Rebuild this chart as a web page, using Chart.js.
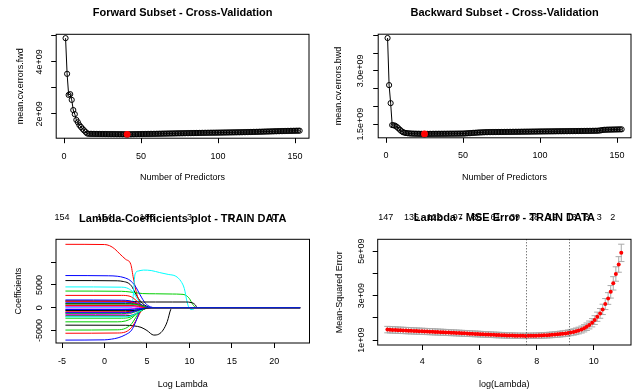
<!DOCTYPE html>
<html>
<head>
<meta charset="utf-8">
<script src="https://cdn.jsdelivr.net/npm/chart.js@4.4.1/dist/chart.umd.min.js"></script>
<style>
  html, body { margin: 0; padding: 0; background: #fff; }
  #wrap { position: relative; width: 632px; height: 392px; }
  canvas { position: absolute; }
</style>
</head>
<body>
<div id="wrap">
  <canvas id="fwd" width="316" height="196" style="left:0;top:0"></canvas>
  <canvas id="bwd" width="316" height="196" style="left:316px;top:0"></canvas>
  <canvas id="coef" width="316" height="196" style="left:0;top:196px"></canvas>
  <canvas id="mse" width="316" height="196" style="left:316px;top:196px"></canvas>
</div>
<script>
// mean CV error (x 1e9) for 1..153 predictors
const fwdErrors = [
  4.91, 3.54, 2.73, 2.76, 2.54, 2.15, 1.99, 1.77, 1.68, 1.57,
  1.50, 1.43, 1.37, 1.31, 1.25, 1.238, 1.236, 1.235, 1.234, 1.233,
  1.232, 1.232, 1.231, 1.230, 1.230, 1.229, 1.229, 1.228, 1.227, 1.227,
  1.226, 1.226, 1.225, 1.225, 1.224, 1.223, 1.223, 1.222, 1.221, 1.220,
  1.217, 1.220, 1.221, 1.222, 1.223, 1.224, 1.225, 1.226, 1.227, 1.228,
  1.229, 1.230, 1.231, 1.232, 1.233, 1.234, 1.235, 1.236, 1.237, 1.238,
  1.240, 1.241, 1.242, 1.244, 1.245, 1.246, 1.247, 1.249, 1.250, 1.251,
  1.252, 1.253, 1.255, 1.256, 1.257, 1.258, 1.259, 1.260, 1.262, 1.263,
  1.264, 1.265, 1.266, 1.267, 1.268, 1.270, 1.271, 1.272, 1.273, 1.274,
  1.275, 1.276, 1.277, 1.278, 1.279, 1.280, 1.280, 1.281, 1.282, 1.283,
  1.284, 1.285, 1.286, 1.287, 1.288, 1.289, 1.290, 1.291, 1.292, 1.293,
  1.294, 1.295, 1.296, 1.297, 1.298, 1.300, 1.301, 1.302, 1.304, 1.305,
  1.307, 1.308, 1.310, 1.312, 1.313, 1.315, 1.317, 1.318, 1.320, 1.322,
  1.324, 1.326, 1.327, 1.329, 1.331, 1.333, 1.335, 1.336, 1.338, 1.340,
  1.342, 1.343, 1.345, 1.346, 1.348, 1.349, 1.351, 1.352, 1.353, 1.355,
  1.356, 1.357, 1.358
];
const bwdErrors = [
  3.93, 2.60, 2.09, 1.47, 1.465, 1.45, 1.42, 1.38, 1.34, 1.30,
  1.27, 1.255, 1.245, 1.240, 1.235, 1.232, 1.230, 1.228, 1.227, 1.226,
  1.225, 1.224, 1.223, 1.222, 1.219, 1.221, 1.222, 1.222, 1.223, 1.223,
  1.224, 1.224, 1.224, 1.225, 1.225, 1.225, 1.226, 1.226, 1.226, 1.227,
  1.227, 1.228, 1.228, 1.228, 1.229, 1.229, 1.230, 1.230, 1.231, 1.231,
  1.233, 1.236, 1.239, 1.242, 1.245, 1.248, 1.251, 1.254, 1.257, 1.260,
  1.262, 1.264, 1.266, 1.268, 1.270, 1.271, 1.272, 1.272, 1.273, 1.273,
  1.274, 1.274, 1.275, 1.275, 1.276, 1.276, 1.277, 1.277, 1.278, 1.278,
  1.279, 1.279, 1.280, 1.280, 1.281, 1.281, 1.282, 1.283, 1.283, 1.284,
  1.284, 1.285, 1.285, 1.286, 1.287, 1.287, 1.288, 1.288, 1.289, 1.290,
  1.290, 1.291, 1.291, 1.292, 1.292, 1.293, 1.293, 1.294, 1.294, 1.295,
  1.295, 1.296, 1.296, 1.297, 1.297, 1.298, 1.298, 1.299, 1.299, 1.300,
  1.300, 1.301, 1.301, 1.302, 1.302, 1.303, 1.303, 1.304, 1.305, 1.305,
  1.306, 1.306, 1.307, 1.308, 1.309, 1.310, 1.311, 1.313, 1.318, 1.328,
  1.334, 1.337, 1.339, 1.341, 1.342, 1.343, 1.344, 1.345, 1.346, 1.347,
  1.348, 1.349, 1.350
];
const predictorTicks = [0, 50, 100, 150];
const fwdYTicks = [2, 3, 4, 5];
const bwdYTicks = [1.5, 2, 2.5, 3, 3.5, 4];

// lasso coefficient paths: [log lambda, coefficient] pairs
const coefPaths = [
  [[-4.6,5950],[1.5,5900],[2.2,5750],[2.8,5400],[3.2,4700],[3.6,3300],[4,2000],[4.5,900],[5,300],[5.5,0],[23.03,0]],
  [[-4.6,13900],[0,13850],[0.6,13600],[1.2,12900],[1.8,11800],[2.5,10600],[3.1,9500],[3.4,6500],[3.8,3000],[4.2,1000],[4.7,0],[23.03,0]],
  [[-4.6,3650],[2,3600],[3,3450],[3.8,3250],[4.5,3100],[6,3050],[8,3000],[9,2950],[9.5,2800],[10,2000],[10.4,700],[10.8,0],[23.03,0]],
  [[-4.6,7050],[0.5,7000],[1.5,6900],[2.3,6600],[3,6000],[3.6,4800],[4.2,2800],[4.8,1000],[5.4,200],[6,0],[23.03,0]],
  [[-4.6,0],[3.2,0],[3.4,3000],[3.6,7400],[4,8050],[4.6,8250],[5.5,8150],[6.5,7700],[7.5,7300],[8.4,6900],[9,5800],[9.4,4200],[9.7,1500],[9.9,200],[10.2,-400],[10.5,-300],[10.8,0],[23.03,0]],
  [[-4.6,-300],[2,-300],[3.5,-200],[4.5,0],[23.03,0]],
  [[-4.6,-3830],[2.5,-3850],[3.5,-4000],[4.3,-4300],[5,-5000],[5.8,-6000],[6.4,-5800],[6.9,-4900],[7.4,-3000],[7.8,-400],[8.1,0],[23.03,0]],
  [[-4.6,-5600],[1.5,-5550],[2.5,-5300],[3.2,-4300],[3.8,-2500],[4.3,-800],[4.8,0],[23.03,0]],
  [[-4.6,-4900],[1.5,-4850],[2.5,-4500],[3.2,-3500],[3.8,-1800],[4.3,-500],[4.8,0],[23.03,0]],
  [[-4.6,-7100],[0,-7050],[0.8,-6900],[1.6,-6600],[2.5,-5900],[3.2,-4900],[3.7,-3000],[4.1,-1000],[4.5,0],[23.03,0]],
  [[-4.6,4560],[2,4500],[2.8,4200],[3.4,3300],[3.9,1800],[4.4,600],[5,0],[23.03,0]],
  [[-4.6,-1000],[2.5,-1000],[3.5,-700],[4.5,-200],[5.2,0],[23.03,0]],
  [[-4.6,1500],[2,1450],[3.5,1350],[4.5,1250],[6,1250],[8,1250],[9.5,1250],[10.3,1100],[10.7,600],[10.9,0],[23.03,0]],
  [[-4.6,2700],[2,2700],[3,2500],[3.6,1800],[4.2,800],[4.8,200],[5.3,0],[23.03,0]],
  [[-4.6,-3100],[1.5,-3100],[2.5,-2900],[3.2,-2300],[3.8,-1300],[4.4,-400],[5,0],[23.03,0]],
  [[-4.6,1700],[2,1650],[3,1500],[4,900],[5,200],[5.5,0],[23.03,0]],
  [[-4.6,300],[3,300],[4.5,100],[5,0],[23.03,0]],
  [[-4.6,-1500],[2.5,-1450],[3.5,-1000],[4.5,-300],[5.2,0],[23.03,0]],
  [[-4.6,-1800],[2.5,-1800],[3.3,-1600],[4,-1000],[4.8,-200],[5.3,0],[23.03,0]],
  [[-4.6,-900],[2.5,-900],[3.5,-600],[4.5,-100],[5,0],[23.03,0]],
  [[-4.6,-2300],[2,-2300],[3,-2100],[3.8,-1300],[4.6,-400],[5.4,0],[23.03,0]],
  [[-4.6,1200],[2.5,1200],[3.5,1000],[4.5,400],[5.2,0],[23.03,0]],
  [[-4.6,-600],[3,-600],[4,-300],[5,0],[23.03,0]],
  [[-4.6,600],[2.5,600],[3.5,500],[4.5,150],[5,0],[23.03,0]],
  [[-4.6,900],[2.5,900],[3.5,800],[4.2,500],[4.8,100],[5.2,0],[23.03,0]],
  [[-4.6,1400],[2.5,1400],[3.5,1100],[4.3,500],[5,0],[23.03,0]],
  [[-4.6,-1300],[2,-1300],[3.2,-1100],[4.2,-500],[5,0],[23.03,0]],
  [[-4.6,-400],[3,-400],[4,-200],[4.8,0],[23.03,0]],
  [[-4.6,-2000],[2.5,-2000],[3.5,-1500],[4.3,-600],[5,0],[23.03,0]],
  [[-4.6,200],[3,200],[4,100],[4.6,0],[23.03,0]],
  [[-4.6,-600],[2.5,-650],[3.5,-600],[4.5,-300],[5.5,0],[23.03,0]],
  [[-4.6,500],[3,500],[4,300],[4.8,0],[23.03,0]],
  [[-4.6,800],[3,800],[4,600],[4.8,200],[5.4,0],[23.03,0]],
  [[-4.6,-1100],[2.5,-1100],[3.5,-800],[4.5,-200],[5,0],[23.03,0]]
];
const coefXTicks = [-5, 0, 5, 10, 15, 20];
const coefYTicks = [-5000, 0, 5000, 10000];
const coefTopTicks = [-5, 0, 5, 10, 15, 20];
const coefTopLabels = ["154", "154", "108", "3", "0", "0"];
const palette = ["#000000", "#ff0000", "#00cd00", "#0000ff", "#00ffff", "#ff00ff"];

// cross-validated MSE (x 1e9) against log(lambda)
const mseLogLambda = [
  2.78, 2.87, 2.96, 3.06, 3.15, 3.24, 3.33, 3.43, 3.52, 3.61,
  3.71, 3.80, 3.89, 3.99, 4.08, 4.17, 4.26, 4.36, 4.45, 4.54,
  4.64, 4.73, 4.82, 4.92, 5.01, 5.10, 5.19, 5.29, 5.38, 5.47,
  5.57, 5.66, 5.75, 5.85, 5.94, 6.03, 6.12, 6.22, 6.31, 6.40,
  6.50, 6.59, 6.68, 6.78, 6.87, 6.96, 7.05, 7.15, 7.24, 7.33,
  7.43, 7.52, 7.61, 7.71, 7.80, 7.89, 7.98, 8.08, 8.17, 8.26,
  8.36, 8.45, 8.54, 8.64, 8.73, 8.82, 8.91, 9.01, 9.10, 9.19,
  9.29, 9.38, 9.47, 9.57, 9.66, 9.75, 9.84, 9.94, 10.03, 10.12,
  10.22, 10.31, 10.40, 10.50, 10.59, 10.68, 10.77, 10.87, 10.96
];
const mseMean = [
  1.472, 1.466, 1.459, 1.453, 1.447, 1.441, 1.435, 1.429, 1.423, 1.418,
  1.412, 1.407, 1.401, 1.396, 1.390, 1.385, 1.379, 1.374, 1.368, 1.362,
  1.357, 1.351, 1.345, 1.339, 1.333, 1.327, 1.321, 1.315, 1.309, 1.303,
  1.297, 1.291, 1.285, 1.279, 1.273, 1.267, 1.261, 1.255, 1.249, 1.243,
  1.237, 1.231, 1.226, 1.221, 1.216, 1.211, 1.207, 1.203, 1.199, 1.196,
  1.193, 1.191, 1.190, 1.191, 1.193, 1.195, 1.198, 1.202, 1.207, 1.213,
  1.220, 1.228, 1.237, 1.247, 1.258, 1.270, 1.284, 1.300, 1.318, 1.340,
  1.365, 1.395, 1.430, 1.475, 1.530, 1.600, 1.680, 1.780, 1.900, 2.050,
  2.200, 2.380, 2.620, 2.870, 3.170, 3.550, 3.970, 4.400, 4.920
];
const mseSd = [
  0.145, 0.145, 0.144, 0.144, 0.143, 0.143, 0.142, 0.142, 0.141, 0.141,
  0.140, 0.140, 0.139, 0.139, 0.138, 0.138, 0.137, 0.137, 0.136, 0.136,
  0.135, 0.135, 0.134, 0.134, 0.133, 0.133, 0.132, 0.132, 0.131, 0.131,
  0.130, 0.130, 0.129, 0.129, 0.128, 0.128, 0.127, 0.127, 0.126, 0.126,
  0.125, 0.125, 0.124, 0.124, 0.123, 0.123, 0.122, 0.122, 0.122, 0.121,
  0.121, 0.121, 0.121, 0.121, 0.121, 0.122, 0.122, 0.123, 0.123, 0.124,
  0.125, 0.126, 0.127, 0.128, 0.129, 0.131, 0.133, 0.135, 0.137, 0.140,
  0.143, 0.147, 0.151, 0.156, 0.162, 0.169, 0.177, 0.186, 0.196, 0.207,
  0.219, 0.232, 0.247, 0.263, 0.281, 0.301, 0.324, 0.350, 0.390
];
const mseXTicks = [4, 6, 8, 10];
const mseYTicks = [1, 2, 3, 4, 5];
const mseTopTicks = [2.72, 3.62, 4.42, 5.24, 5.9, 6.56, 7.24, 7.91, 8.56, 9.23, 9.75, 10.19, 10.66];
const mseTopLabels = ["147", "135", "122", "97", "86", "61", "39", "28", "19", "13", "8", "3", "2"];
const lambdaMinLog = 7.61;
const lambda1seLog = 9.12;

const FONT = '"Liberation Sans", Arial, Helvetica, sans-serif';
Chart.defaults.font.family = FONT;
Chart.defaults.font.size = 9;
Chart.defaults.color = "#000";

const W = 316, H = 196, TL = 5;
const meas = document.createElement("canvas").getContext("2d");
meas.font = "9px " + FONT;
const halfWidest = (labels) => Math.max(...labels.map((t) => meas.measureText(t).width)) / 2;

function fixSize(prop, val) {
  return (s) => {
    s[prop] = val;
    s.paddingLeft = s.paddingRight = s.paddingTop = s.paddingBottom = 0;
  };
}
const useTicks = (vals) => (s) => { s.ticks = vals.map((v) => ({ value: v })); };

const frame = {
  id: "frame",
  afterDraw(chart) {
    const { ctx, chartArea: a } = chart;
    ctx.save();
    ctx.strokeStyle = "#000";
    ctx.lineWidth = 1;
    ctx.strokeRect(a.left, a.top, a.right - a.left, a.bottom - a.top);
    ctx.restore();
  },
};

function panel(id, p) {
  const yPad = p.box.l - TL - halfWidest(p.y.shown) - p.y.labelCx;
  const top = p.top;
  return new Chart(document.getElementById(id), {
    type: "line",
    data: { datasets: p.datasets },
    options: {
      responsive: false,
      animation: false,
      events: [],
      layout: { autoPadding: false, padding: { left: 0, top: 0, bottom: 0, right: W - p.box.r } },
      plugins: { legend: { display: false }, tooltip: { enabled: false }, title: { display: false } },
      scales: {
        x: {
          type: "linear", position: "bottom", min: p.x.min, max: p.x.max,
          afterFit: fixSize("height", H - p.box.b),
          afterBuildTicks: useTicks(p.x.ticks),
          border: { display: false },
          grid: { drawOnChartArea: false, tickLength: TL, color: "#000" },
          ticks: { maxRotation: 0, autoSkip: false, padding: p.x.labelPad, callback: (v) => String(v) },
          title: { display: true, text: p.x.title, padding: { top: 0, bottom: p.x.titlePad } },
        },
        y: {
          type: "linear", position: "left", min: p.y.min, max: p.y.max,
          afterFit: fixSize("width", p.box.l),
          afterBuildTicks: useTicks(p.y.ticks),
          border: { display: false },
          grid: { drawOnChartArea: false, tickLength: TL, color: "#000" },
          ticks: { autoSkip: false, minRotation: 90, maxRotation: 90, crossAlign: "center", padding: yPad, callback: p.y.fmt },
          title: { display: true, text: p.y.title, padding: { top: p.y.titlePad, bottom: 0 } },
        },
        x2: {
          type: "linear", position: "top", min: p.x.min, max: p.x.max,
          afterFit: fixSize("height", p.box.t),
          afterBuildTicks: top.ticks ? useTicks(top.ticks) : undefined,
          border: { display: false },
          grid: { display: false },
          ticks: { display: !!top.ticks, autoSkip: false, maxRotation: 0, padding: top.labelPad || 0, callback: (v, i) => (top.labels ? top.labels[i] : "") },
          title: { display: true, text: top.title, font: { size: 11, weight: "bold" }, padding: { top: top.titlePad, bottom: 0 } },
        },
      },
    },
    plugins: [frame].concat(p.plugins || []),
  });
}

function subsetSets(errors) {
  const best = errors.indexOf(Math.min(...errors)) + 1;
  return [
    { data: [{ x: best, y: errors[best - 1] }], showLine: false, pointRadius: 3.4, pointBackgroundColor: "#ff0000", pointBorderWidth: 0, order: 0 },
    {
      data: errors.map((v, i) => ({ x: i + 1, y: v })),
      borderColor: "#000", borderWidth: 1, tension: 0,
      pointRadius: 2.6, pointBorderWidth: 1, pointBorderColor: "#000", pointBackgroundColor: "rgba(0,0,0,0)", order: 1,
    },
  ];
}

panel("fwd", {
  box: { l: 56.2, t: 34.3, r: 309, b: 138.2 },
  x: { min: -5.08, max: 159.08, ticks: predictorTicks, title: "Number of Predictors", labelPad: 7.6, titlePad: 12.9 },
  y: { min: 1.069, max: 5.058, ticks: fwdYTicks, title: "mean.cv.errors.fwd", titlePad: 15.3, labelCx: 40,
       shown: ["2e+09", "4e+09"], fmt: (v) => (v === 2 || v === 4 ? v + "e+09" : "") },
  top: { title: "Forward Subset - Cross-Validation", titlePad: 6.7 },
  datasets: subsetSets(fwdErrors),
});

panel("bwd", {
  box: { l: 62.2, t: 34.2, r: 315, b: 137.8 },
  x: { min: -5.08, max: 159.08, ticks: predictorTicks, title: "Number of Predictors", labelPad: 7.6, titlePad: 12.9 },
  y: { min: 1.111, max: 4.038, ticks: bwdYTicks, title: "mean.cv.errors.bwd", titlePad: 17.3, labelCx: 45,
       shown: ["1.5e+09", "3.0e+09"], fmt: (v) => (v === 1.5 || v === 3 ? v.toFixed(1) + "e+09" : "") },
  top: { title: "Backward Subset - Cross-Validation", titlePad: 6.7 },
  datasets: subsetSets(bwdErrors),
});

panel("coef", {
  box: { l: 56, t: 43.3, r: 309.5, b: 147 },
  x: { min: -5.71, max: 24.14, ticks: coefXTicks, title: "Log Lambda", labelPad: 8.3, titlePad: 2.3 },
  y: { min: -7740, max: 15000, ticks: coefYTicks, title: "Coefficients", titlePad: 12.9, labelCx: 39.3,
       shown: ["5000", "-5000"], fmt: (v) => (v === 10000 ? "" : String(v)) },
  top: { title: "Lambda-Coefficients plot - TRAIN DATA", titlePad: 16.1, ticks: coefTopTicks, labels: coefTopLabels, labelPad: 8.6 },
  datasets: coefPaths.map((pts, i) => ({
    data: pts.map(([x, y]) => ({ x, y })),
    borderColor: palette[i % palette.length], borderWidth: 1, pointRadius: 0,
    cubicInterpolationMode: "monotone", order: -i,
  })),
});

const errorBars = {
  id: "errorBars",
  beforeDatasetsDraw(chart) {
    const { ctx, scales: { x, y } } = chart;
    const half = x.getPixelForValue(0.11) - x.getPixelForValue(0);
    ctx.save();
    ctx.strokeStyle = "#a9a9a9";
    ctx.lineWidth = 1;
    ctx.beginPath();
    mseLogLambda.forEach((lx, i) => {
      const px = x.getPixelForValue(lx);
      const hi = y.getPixelForValue(mseMean[i] + mseSd[i]);
      const lo = y.getPixelForValue(mseMean[i] - mseSd[i]);
      ctx.moveTo(px, hi); ctx.lineTo(px, lo);
      ctx.moveTo(px - half, hi); ctx.lineTo(px + half, hi);
      ctx.moveTo(px - half, lo); ctx.lineTo(px + half, lo);
    });
    ctx.stroke();
    ctx.restore();
  },
};
const lambdaLines = {
  id: "lambdaLines",
  afterDatasetsDraw(chart) {
    const { ctx, chartArea: a, scales: { x } } = chart;
    ctx.save();
    ctx.strokeStyle = "#444";
    ctx.lineWidth = 1;
    ctx.setLineDash([1, 2]);
    [lambdaMinLog, lambda1seLog].forEach((v) => {
      const px = Math.round(x.getPixelForValue(v)) + 0.5;
      ctx.beginPath(); ctx.moveTo(px, a.top); ctx.lineTo(px, a.bottom); ctx.stroke();
    });
    ctx.restore();
  },
};

panel("mse", {
  box: { l: 61.7, t: 43.3, r: 315, b: 149 },
  x: { min: 2.44, max: 11.3, ticks: mseXTicks, title: "log(Lambda)", labelPad: 6.3, titlePad: 2.3 },
  y: { min: 0.78, max: 5.53, ticks: mseYTicks, title: "Mean-Squared Error", titlePad: 17.9, labelCx: 45.7,
       shown: ["1e+09", "3e+09", "5e+09"], fmt: (v) => (v % 2 === 1 ? v + "e+09" : "") },
  top: { title: "Lambda - MSE Error - TRAIN DATA", titlePad: 15.1, ticks: mseTopTicks, labels: mseTopLabels, labelPad: 8.6 },
  datasets: [{
    data: mseLogLambda.map((x, i) => ({ x, y: mseMean[i] })),
    showLine: false, pointRadius: 2, pointBackgroundColor: "#ff0000", pointBorderWidth: 0,
  }],
  plugins: [errorBars, lambdaLines],
});
</script>
</body>
</html>
